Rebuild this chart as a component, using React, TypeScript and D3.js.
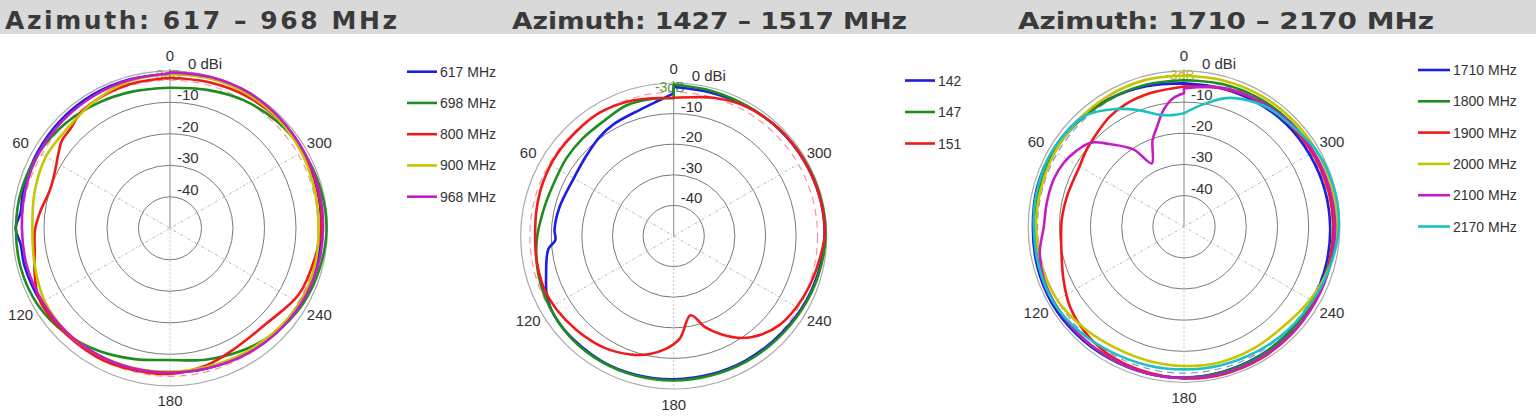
import React from "react";
import * as d3 from "d3";

type Pt = [number, number]; // [azimuth degrees (counter-clockwise from top), gain dB]

const TITLES = ["Azimuth:  617 – 968 MHz", "Azimuth: 1427 – 1517 MHz", "Azimuth: 1710 – 2170 MHz"];
const RING_DB = [-10, -20, -30, -40];
const ANGLE_TICKS = [0, 60, 120, 180, 240, 300];
const SPOKES = [60, 120];

const NAMES_1 = ["617 MHz", "698 MHz", "800 MHz", "900 MHz", "968 MHz"];
const NAMES_2 = ["142", "147", "151"];
const NAMES_3 = ["1710 MHz", "1800 MHz", "1900 MHz", "2000 MHz", "2100 MHz", "2170 MHz"];

// ---------- Panel 1: 617 – 968 MHz ----------
const az617: Pt[] = [[0,-1.0],[15,-1.0],[30,-1.0],[45,-1.2],[60,-1.5],[75,-1.8],[84,-2.3],[90,-1.0],[96,-2.3],[105,-2.3],[120,-2.8],[135,-3.2],[150,-3.5],[165,-4.0],[180,-4.2],[195,-4.0],[210,-3.5],[225,-3.0],[240,-2.5],[255,-2.2],[270,-2.0],[285,-1.7],[300,-1.4],[315,-1.0],[330,-0.6],[345,-0.6],[360,-0.8]];
const az698: Pt[] = [[0,-5.4],[15,-5.0],[30,-4.1],[45,-3.0],[60,-2.0],[75,-1.3],[90,-1.1],[105,-1.0],[120,-1.5],[135,-3.0],[150,-5.0],[165,-7.0],[180,-8.2],[195,-6.8],[210,-5.0],[225,-3.0],[240,-1.5],[255,-0.8],[270,-0.3],[285,-0.6],[300,-1.2],[315,-2.0],[330,-3.1],[345,-4.5],[360,-5.4]];
const az800: Pt[] = [[0,-2.2],[15,-2.5],[30,-3.0],[38,-3.7],[45,-5.3],[51,-5.8],[56,-7.3],[64,-9.3],[72,-10.0],[83,-8.4],[91,-7.1],[100,-6.4],[108,-4.8],[118,-2.8],[130,-2.8],[150,-3.0],[165,-3.5],[180,-3.8],[195,-5.0],[207,-6.5],[225,-7.0],[243,-4.0],[259,-3.0],[270,-2.0],[285,-1.5],[300,-1.2],[315,-1.2],[330,-1.5],[345,-2.0],[360,-2.2]];
const az900: Pt[] = [[0,-1.0],[15,-1.5],[30,-3.0],[45,-4.5],[60,-4.5],[75,-5.5],[90,-6.3],[105,-5.5],[120,-4.0],[135,-3.5],[150,-3.8],[165,-4.2],[180,-4.5],[195,-4.5],[210,-4.0],[225,-3.3],[240,-2.5],[255,-2.5],[270,-2.8],[285,-2.5],[300,-1.8],[315,-1.2],[330,-0.8],[345,-0.8],[360,-1.0]];
const az968: Pt[] = [[0,-0.8],[15,-1.2],[30,-1.5],[45,-1.8],[60,-2.0],[75,-2.5],[90,-3.0],[105,-3.0],[120,-3.3],[135,-3.5],[150,-3.8],[165,-4.0],[180,-4.2],[195,-4.0],[210,-3.3],[225,-2.6],[240,-2.0],[255,-1.6],[270,-1.4],[285,-1.2],[300,-1.0],[315,-0.6],[330,-0.2],[345,-0.3],[360,-0.5]];

// ---------- Panel 2: 1427 – 1517 MHz ----------
const az142: Pt[] = [[0,-3.4],[6,-5.4],[15,-7.3],[28,-8.5],[37,-9.6],[48,-11.3],[61,-12.3],[76,-11.5],[87,-11.0],[92,-11.3],[96,-8.8],[107,-6.4],[117,-3.8],[130,-2.9],[150,-2.8],[165,-3.0],[180,-3.2],[195,-3.2],[210,-3.0],[225,-2.7],[240,-2.0],[255,-1.3],[270,-0.7],[285,-0.6],[300,-0.8],[315,-1.0],[330,-1.3],[345,-1.6],[360,-1.3]];
const az147: Pt[] = [[0,-5.0],[10,-4.6],[20,-4.6],[31,-6.0],[43,-6.4],[54,-6.7],[67,-7.2],[79,-6.6],[92,-5.2],[106,-4.0],[120,-3.3],[135,-2.7],[150,-2.6],[165,-2.7],[180,-2.8],[195,-2.8],[210,-2.6],[225,-2.3],[240,-1.7],[255,-1.0],[270,-0.4],[285,-0.4],[300,-0.6],[315,-0.9],[330,-1.2],[345,-1.0],[360,-0.5]];
const az151: Pt[] = [[0,-4.8],[17,-3.7],[31,-3.0],[43,-3.3],[55,-3.4],[67,-3.8],[78,-4.3],[89,-4.7],[100,-4.5],[112,-4.3],[122,-4.8],[134,-5.8],[148,-7.0],[160,-8.8],[168,-10.5],[176,-13.0],[183.5,-16.5],[192,-23.5],[199,-18.5],[206,-14.2],[214,-9.8],[222,-6.8],[230,-4.8],[240,-3.6],[250,-2.7],[262,-1.6],[271,-0.6],[283,-0.6],[294,-0.7],[307,-0.8],[319,-1.0],[332,-1.6],[344,-3.0],[352,-4.2],[360,-4.8]];

// ---------- Panel 3: 1710 – 2170 MHz ----------
const az1710: Pt[] = [[0,-4.0],[15,-3.3],[30,-2.5],[45,-1.8],[60,-1.3],[75,-1.2],[90,-1.5],[105,-1.2],[120,-1.0],[135,-1.2],[150,-1.4],[165,-1.5],[180,-1.6],[195,-1.8],[210,-2.0],[225,-2.2],[240,-2.5],[255,-2.8],[270,-3.1],[285,-3.3],[300,-3.5],[315,-3.5],[330,-3.8],[345,-4.0],[360,-4.0]];
const az1800: Pt[] = [[0,-3.0],[15,-2.8],[30,-2.6],[45,-2.2],[60,-2.0],[75,-2.0],[90,-2.0],[105,-1.8],[120,-1.7],[135,-1.7],[150,-1.6],[165,-1.5],[180,-1.5],[195,-1.7],[210,-1.9],[225,-2.1],[240,-2.2],[255,-2.1],[270,-2.1],[285,-2.0],[300,-2.0],[315,-2.1],[330,-2.3],[345,-2.6],[360,-3.0]];
const az1900: Pt[] = [[0,-5.0],[14,-5.8],[25,-6.4],[34,-7.4],[43,-9.0],[52,-10.2],[60,-11.3],[67,-11.5],[76,-11.2],[87,-10.7],[102,-9.8],[114,-7.7],[125,-5.3],[136,-3.7],[149,-2.4],[163,-1.9],[180,-1.3],[195,-1.0],[210,-1.0],[225,-1.2],[240,-1.6],[255,-1.9],[270,-2.1],[285,-2.3],[300,-2.5],[315,-2.8],[330,-3.2],[345,-4.0],[360,-5.0]];
const az2000: Pt[] = [[0,-1.5],[15,-1.3],[30,-1.5],[45,-1.8],[60,-2.2],[75,-2.5],[90,-2.5],[105,-2.7],[120,-3.0],[135,-4.3],[150,-5.3],[165,-5.5],[180,-5.3],[195,-5.0],[210,-5.0],[225,-4.8],[240,-3.2],[255,-1.6],[270,-1.0],[285,-0.9],[300,-1.0],[315,-1.1],[330,-1.2],[345,-1.4],[360,-1.5]];
const az2100: Pt[] = [[0,-7.2],[5,-8.7],[10,-12.0],[15,-16.7],[20,-20.5],[27,-27.2],[33,-20.5],[42,-14.3],[48,-9.7],[55,-7.7],[62,-6.3],[70,-5.5],[80,-5.3],[90,-5.0],[100,-3.0],[110,-2.0],[120,-1.8],[135,-1.7],[150,-1.7],[165,-1.5],[180,-1.4],[195,-1.2],[210,-1.2],[225,-1.3],[240,-1.4],[255,-1.5],[270,-1.5],[285,-1.7],[300,-2.0],[315,-2.4],[330,-3.0],[345,-3.8],[360,-5.6]];
const az2170: Pt[] = [[0,-13.6],[6,-14.0],[12,-13.3],[21,-10.0],[30,-6.4],[42,-2.2],[53,-1.5],[65,-1.2],[80,-1.5],[90,-1.8],[105,-1.7],[120,-1.6],[135,-2.5],[150,-3.5],[165,-4.0],[180,-4.2],[195,-4.0],[210,-3.6],[225,-3.0],[240,-2.4],[255,-1.4],[270,-0.3],[285,-0.3],[300,-1.0],[312,-2.5],[325,-3.3],[336,-5.1],[342,-6.6],[352,-10.6],[360,-13.6]];

const BLUE = "#1d1de6";
const GREEN = "#1f8c1f";
const RED = "#ef1b1b";
const YELLOW = "#c6c600";
const MAGENTA = "#c21ec2";
const CYAN = "#1fc0c0";

const PANELS = [
  { title: TITLES[0], titleX: 5, titleW: 392, titleSize: 25, titleY: 28.5, titleFont: "'DejaVu Sans', sans-serif", titleAdj: "spacing",
    cx: 170, cy: 228.3, r0: 157.5,
    names: NAMES_1, series: [az617, az698, az800, az900, az968], colors: [BLUE, GREEN, RED, YELLOW, MAGENTA],
    legX: 407, legW: 30, legY: 71.7, legStep: 31.25, dash: "#f09a9a", tag: "#7a9e6a" },
  { title: TITLES[1], titleX: 512, titleW: 395, titleSize: 23, titleY: 29, titleFont: "'DejaVu Sans Condensed', 'DejaVu Sans', sans-serif", titleAdj: "spacingAndGlyphs",
    cx: 673.7, cy: 236, r0: 153,
    names: NAMES_2, series: [az142, az147, az151], colors: [BLUE, GREEN, RED],
    legX: 905, legW: 30, legY: 80.5, legStep: 31.5, dash: "#f09a9a", tag: "#4f9a4f" },
  { title: TITLES[2], titleX: 1018, titleW: 416, titleSize: 23, titleY: 29, titleFont: "'DejaVu Sans Condensed', 'DejaVu Sans', sans-serif", titleAdj: "spacingAndGlyphs",
    cx: 1184, cy: 226.7, r0: 155.8,
    names: NAMES_3, series: [az1710, az1800, az1900, az2000, az2100, az2170], colors: [BLUE, GREEN, RED, YELLOW, MAGENTA, CYAN],
    legX: 1418, legW: 32, legY: 70, legStep: 31.3, dash: "#8c8cf0", tag: "#b5b540" },
];

const FONT = "'Liberation Sans', Arial, Helvetica, sans-serif";

function Panel({ p }: { p: typeof PANELS[number] }) {
  const r = d3.scaleLinear().domain([-50, 0]).range([0, p.r0]);
  const rad = (deg: number) => (deg * Math.PI) / 180;
  const line = d3
    .lineRadial<Pt>()
    .angle((d) => -rad(d[0]))
    .radius((d) => r(d[1]))
    .curve(d3.curveCatmullRom.alpha(0.5));
  const pos = (deg: number, rr: number) => [p.cx - rr * Math.sin(rad(deg)), p.cy - rr * Math.cos(rad(deg))];
  const labelR = p.r0 + 15;

  return (
    <g>
      <text x={p.titleX} y={p.titleY} fontFamily={p.titleFont} fontWeight="bold" fontSize={p.titleSize}
        fill="#3a3a3a" textLength={p.titleW} lengthAdjust={p.titleAdj}>{p.title}</text>

      {/* rings */}
      {RING_DB.map((db) => (
        <circle key={db} cx={p.cx} cy={p.cy} r={r(db)} fill="none" stroke="#7a7a7a" strokeWidth={1} />
      ))}
      <circle cx={p.cx} cy={p.cy} r={r(0)} fill="none" stroke="#a8a8a8" strokeWidth={1.2} />
      {/* spokes */}
      {SPOKES.map((a) => {
        const [x1, y1] = pos(a, r(-3));
        const [x2, y2] = pos(a + 180, r(-3));
        return <line key={a} x1={x1} y1={y1} x2={x2} y2={y2} stroke="#b8b8b8" strokeWidth={1} strokeDasharray="3,2,1,2" />;
      })}
      <line x1={p.cx} y1={p.cy} x2={p.cx} y2={p.cy - r(0)} stroke="#8a8a8a" strokeWidth={1} />
      <line x1={p.cx} y1={p.cy} x2={p.cx} y2={p.cy + r(0)} stroke="#c4c4c4" strokeWidth={1} strokeDasharray="2,2" />
      {/* -3 dB reference */}
      <circle cx={p.cx} cy={p.cy} r={r(-3)} fill="none" stroke={p.dash} strokeWidth={1.2} strokeDasharray="7,5" />

      {/* ring labels */}
      {RING_DB.map((db) => (
        <text key={db} x={p.cx + 7} y={p.cy - r(db) - 2} fontFamily={FONT} fontSize={15} fill="#333">{db}</text>
      ))}
      <text x={p.cx + 18} y={p.cy - r(0) - 2} fontFamily={FONT} fontSize={15} fill="#333">0 dBi</text>
      <text x={p.cx - 4} y={p.cy - r(-3) - 0.5} fontFamily={FONT} fontSize={14} fill={p.tag} textAnchor="middle">-3dB</text>

      {/* angle labels */}
      {ANGLE_TICKS.map((a) => {
        const [x, y] = pos(a, labelR);
        return (
          <text key={a} x={x} y={y} fontFamily={FONT} fontSize={15} fill="#333" textAnchor="middle" dominantBaseline="central">{a}</text>
        );
      })}

      {/* traces */}
      <g transform={`translate(${p.cx},${p.cy})`}>
        {p.series.map((s, i) => (
          <path key={i} d={(line(s) || "") + "Z"} fill="none" stroke={p.colors[i]} strokeWidth={2.6} strokeLinejoin="round" />
        ))}
      </g>

      {/* legend */}
      {p.names.map((n, i) => {
        const y = p.legY + i * p.legStep;
        return (
          <g key={n}>
            <line x1={p.legX} x2={p.legX + p.legW} y1={y} y2={y} stroke={p.colors[i]} strokeWidth={2.6} />
            <text x={p.legX + p.legW + 3} y={y} fontFamily={FONT} fontSize={14} fill="#333" dominantBaseline="central">{n}</text>
          </g>
        );
      })}
    </g>
  );
}

export default function App() {
  return (
    <svg width={1536} height={416} style={{ position: "absolute", left: 0, top: 0, background: "#fff" }}>
      <rect x={0} y={0} width={1536} height={416} fill="#fff" />
      <rect x={0} y={0} width={1536} height={34} fill="#d9d9d9" />
      {PANELS.map((p, i) => (
        <Panel key={i} p={p} />
      ))}
    </svg>
  );
}
